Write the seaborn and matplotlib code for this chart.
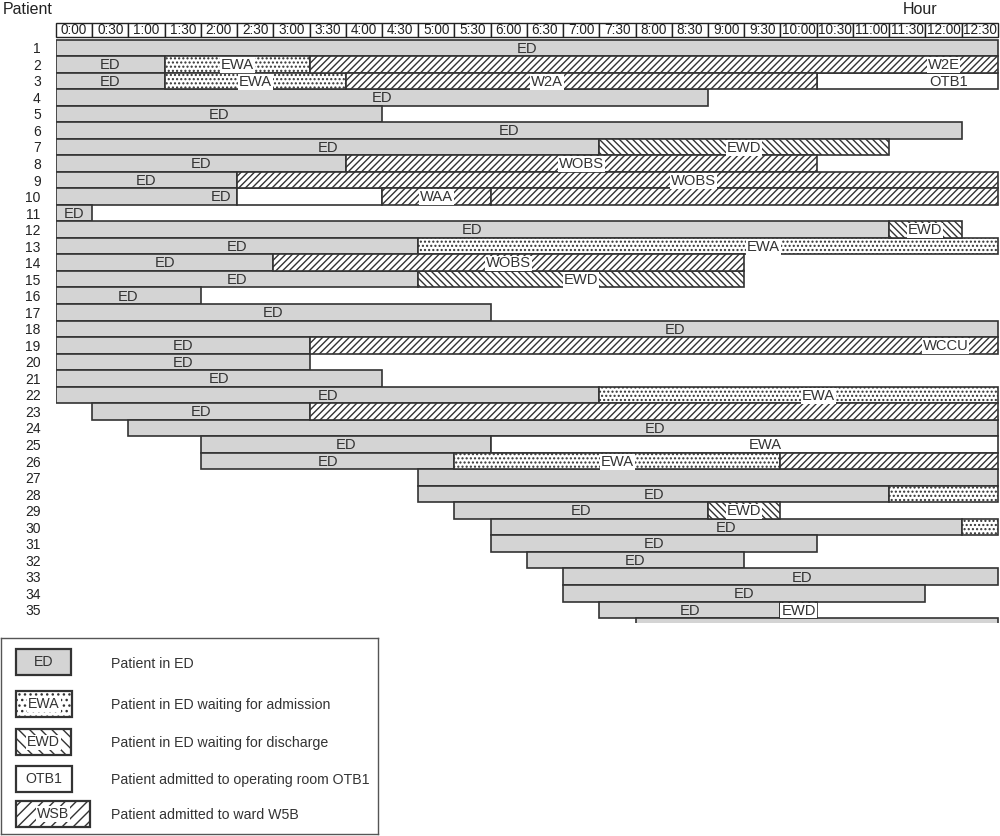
import pandas as pd
import matplotlib.pyplot as plt
import seaborn as sns
from matplotlib.patches import Rectangle

# Data (times in hours after 0:00)
hour_labels = ["0:00", "0:30", "1:00", "1:30", "2:00", "2:30", "3:00", "3:30",
               "4:00", "4:30", "5:00", "5:30", "6:00", "6:30", "7:00", "7:30",
               "8:00", "8:30", "9:00", "9:30", "10:00", "10:30", "11:00",
               "11:30", "12:00", "12:30"]
patients = list(range(1, 36))

# one entry per stay segment, grouped by patient
seg_patient = [1, 2, 2, 2, 3, 3, 3, 3, 4, 5, 6, 7, 7, 8, 8, 9, 9,
               10, 10, 10, 10, 11, 12, 12, 13, 13, 14, 14, 15, 15, 16, 17, 18,
               19, 19, 20, 21, 22, 22, 23, 23, 24, 25, 25, 26, 26, 26,
               27, 28, 28, 29, 29, 30, 30, 31, 32, 33, 34, 35, 35, 36]
seg_state = ["ED", "ED", "EWA", "ward", "ED", "EWA", "ward", "room", "ED", "ED", "ED",
             "ED", "EWD", "ED", "ward", "ED", "ward",
             "ED", "room", "ward", "ward", "ED", "ED", "EWD", "ED", "EWA", "ED", "ward",
             "ED", "EWD", "ED", "ED", "ED",
             "ED", "ward", "ED", "ED", "ED", "EWA", "ED", "ward", "ED", "ED", "room",
             "ED", "EWA", "ward",
             "ED", "ED", "EWA", "ED", "EWD", "ED", "EWA", "ED", "ED", "ED", "ED",
             "ED", "EWD", "ED"]
seg_start = [0, 0, 1.5, 3.5, 0, 1.5, 4.0, 10.5, 0, 0, 0, 0, 7.5, 0, 4.0, 0, 2.5,
             0, 2.5, 4.5, 6.0, 0, 0, 11.5, 0, 5.0, 0, 3.0, 0, 5.0, 0, 0, 0,
             0, 3.5, 0, 0, 0, 7.5, 0.5, 3.5, 1.0, 2.0, 6.0, 2.0, 5.5, 10.0,
             5.0, 5.0, 11.5, 5.5, 9.0, 6.0, 12.5, 6.0, 6.5, 7.0, 7.0, 7.5, 10.0, 8.0]
seg_end = [13, 1.5, 3.5, 13, 1.5, 4.0, 10.5, 13, 9.0, 4.5, 12.5, 7.5, 11.5, 4.0, 10.5, 2.5, 13,
           2.5, 4.5, 6.0, 13, 0.5, 11.5, 12.5, 5.0, 13, 3.0, 9.5, 5.0, 9.5, 2.0, 6.0, 13,
           3.5, 13, 3.5, 4.5, 7.5, 13, 3.5, 13, 13, 6.0, 13, 5.5, 10.0, 13,
           13, 11.5, 13, 9.0, 10.0, 12.5, 13, 10.5, 9.5, 13, 12.0, 10.0, 10.5, 13]
seg_label = ["ED", "ED", "EWA", "W2E", "ED", "EWA", "W2A", "OTB1", "ED", "ED", "ED",
             "ED", "EWD", "ED", "WOBS", "ED", "WOBS",
             "ED", "", "WAA", "", "ED", "ED", "EWD", "ED", "EWA", "ED", "WOBS",
             "ED", "EWD", "ED", "ED", "ED",
             "ED", "WCCU", "ED", "ED", "ED", "EWA", "ED", "", "ED", "ED", "EWA",
             "ED", "EWA", "",
             "", "ED", "", "ED", "EWD", "ED", "", "ED", "ED", "ED", "ED",
             "ED", "EWD", ""]
# where the label sits when it is not in the middle of its segment
seg_label_at = [None, None, None, 12.25, None, None, 6.78, 12.32, None, None, None,
                None, None, None, None, None, 8.8,
                2.28, None, None, None, None, None, None, None, 9.77, None, None,
                None, None, None, None, 8.55,
                None, 12.28, None, None, None, 10.52, None, None, 8.27, None, 9.79,
                None, None, None,
                None, None, None, None, None, None, None, None, None, 10.3, None,
                None, None, None]

legend_codes = ["ED", "EWA", "EWD", "OTB1", "WSB"]
legend_states = ["ED", "EWA", "EWD", "room", "ward"]
legend_texts = ["Patient in ED",
                "Patient in ED waiting for admission",
                "Patient in ED waiting for discharge",
                "Patient admitted to operating room OTB1",
                "Patient admitted to ward W5B"]

df = pd.DataFrame({"patient": seg_patient, "state": seg_state, "start": seg_start,
                   "end": seg_end, "label": seg_label, "label_at": seg_label_at})
df["dur"] = df["end"] - df["start"]

sns.set_theme(style="white")
plt.rcParams["font.family"] = ["Liberation Sans", "DejaVu Sans"]
plt.rcParams["hatch.linewidth"] = 1.0

edge = "#333333"
styles = {
    "ED": dict(color="#d4d4d4", hatch=None),
    "EWA": dict(color="white", hatch="...."),
    "EWD": dict(color="white", hatch="\\\\\\\\\\"),
    "ward": dict(color="white", hatch="/////"),
    "room": dict(color="white", hatch=None),
}

fig = plt.figure(figsize=(10, 8.36), dpi=100)
ax = fig.add_axes([0.056, 1 - 623 / 836, 0.9425, 600 / 836])

# header row with the half-hour cells
cell_left = [i * 0.5 for i in range(len(hour_labels))]
ax.barh(-0.075, 0.5, left=cell_left, height=0.85, align="center",
        color="white", edgecolor="#222222", linewidth=1.0, clip_on=False)
for x0, lab in zip(cell_left, hour_labels):
    ax.text(x0 + 0.25, -0.06, lab, ha="center", va="center", fontsize=9.8,
            color="#222222")

# stay segments
for state in ["ED", "room", "EWA", "EWD", "ward"]:
    sub = df[df["state"] == state]
    st = styles[state]
    ax.barh(sub["patient"], sub["dur"], left=sub["start"], height=1.0,
            color=st["color"], hatch=st["hatch"], edgecolor=edge, linewidth=1.2,
            clip_on=True)

for _, r in df.iterrows():
    if not r["label"]:
        continue
    xl = r["label_at"] if pd.notna(r["label_at"]) else (r["start"] + r["end"]) / 2
    box = None
    if r["state"] in ("EWA", "EWD", "ward"):
        box = dict(facecolor="white", edgecolor="none", pad=0.6)
    ax.text(xl, r["patient"] + 0.05, r["label"], ha="center", va="center",
            fontsize=10.6, color="#333333", bbox=box)

ax.set_xlim(0, 13.01)
ax.set_ylim(35.8, -0.5)
ax.set_yticks(patients)
ax.set_yticklabels([str(p) for p in patients], fontsize=10, color="#222222")
ax.tick_params(axis="y", left=False, length=0, pad=11)
ax.set_xticks([])
for s in ax.spines.values():
    s.set_visible(False)

fig.text(0.003, 1 - 9 / 836, "Patient", ha="left", va="center", fontsize=11.5,
         color="#222222")
fig.text(0.903, 1 - 9 / 836, "Hour", ha="left", va="center", fontsize=11.5,
         color="#222222")

# legend box
leg = fig.add_axes([0.001, 1 - 834 / 836, 0.377, 196 / 836])
leg.set_xlim(0, 377)
leg.set_ylim(196, 0)
leg.set_xticks([])
leg.set_yticks([])
for s in leg.spines.values():
    s.set_color("#555555")
    s.set_linewidth(1.0)

sw_y = [24, 65.5, 104, 140.5, 175.5]
sw_w = [55, 56, 55, 56, 74]
for yc, w, code, state, txt in zip(sw_y, sw_w, legend_codes, legend_states, legend_texts):
    st = styles[state]
    hatch = {"EWA": "...", "EWD": "\\\\\\", "ward": "///"}.get(state)
    leg.add_patch(Rectangle((15, yc - 13), w, 26, facecolor=st["color"], hatch=hatch,
                            edgecolor=edge, linewidth=1.6))
    box = dict(facecolor="white", edgecolor="none", pad=0.5) if hatch else None
    leg.text(15 + w / 2, yc + 0.5, code, ha="center", va="center", fontsize=10.2,
             color="#333333", bbox=box)
    leg.text(110, yc + 1.5, txt, ha="left", va="center", fontsize=10.2, color="#333333")

plt.savefig("out.png", dpi=100)
plt.close()
